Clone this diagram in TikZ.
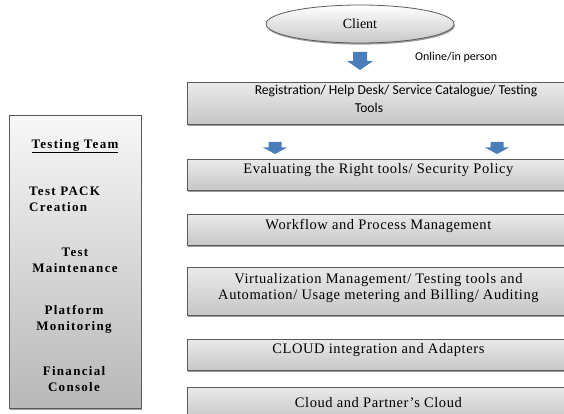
\documentclass[tikz,border=0pt]{standalone}
\usepackage{fontspec}
\setmainfont{Liberation Serif}
\newfontfamily\calfont{Carlito}
\newfontfamily\boxfont[LetterSpace=4]{Liberation Serif}
\newfontfamily\teamfont[LetterSpace=10]{Liberation Serif}
\usetikzlibrary{shadows,shapes.geometric}
\definecolor{arrowblue}{HTML}{4A7EBB}
\definecolor{edgegray}{HTML}{5A5A5A}
\definecolor{boxtop}{HTML}{EAEAEA}
\definecolor{boxbot}{HTML}{C6C6C6}
\begin{document}
\begin{tikzpicture}[x=1pt,y=-1pt,
  shadowed/.style={drop shadow={shadow xshift=0.8pt,shadow yshift=-1.6pt,opacity=0.55,fill=black!70}},
  box/.style={shadowed,draw=edgegray,line width=0.8pt,top color=boxtop,bottom color=boxbot,
    anchor=north west,inner sep=0pt,minimum width=382pt,minimum height=31pt},
  boxtext/.style={font=\boxfont\fontsize{14.5}{16.5}\selectfont,align=center,inner sep=0pt},
  teamtext/.style={font=\teamfont\bfseries\fontsize{13}{16}\selectfont,align=center,inner sep=0pt},
  pics/blockarrow/.style args={#1/#2/#3/#4}{code={%
    \fill[arrowblue] (-#2/2,0) -- (#2/2,0) -- (#2/2,#1-#4) -- (#3/2,#1-#4) -- (0,#1)
      -- (-#3/2,#1-#4) -- (-#2/2,#1-#4) -- cycle;}}
]
\useasboundingbox (0,0) rectangle (564,414);
\clip (0,0) rectangle (564,414);

% client
\node[ellipse,shadowed,draw=edgegray,line width=0.8pt,top color=white,bottom color=black!22,
  minimum width=188pt,minimum height=38pt,inner sep=0pt,
  font=\fontsize{14}{16}\selectfont] (client) at (360,24) {Client};

\coordinate (arrA) at (360,52);
\pic at (arrA) {blockarrow=18/14/26/9};
\node[font=\calfont\fontsize{12}{14}\selectfont,anchor=west,inner sep=0pt] (online) at (415,57) {Online/in person};

% registration
\node[box,minimum height=42pt] (reg) at (187,82) {};
\node[font=\calfont\fontsize{13.6}{18}\selectfont,align=center,inner sep=0pt] (regt) at (382.5,99)
  {\hspace*{27pt}Registration/ Help Desk/ Service Catalogue/ Testing\\ Tools\hspace*{27pt}};

\coordinate (arrB) at (275,142);
\coordinate (arrC) at (497,142);
\pic at (arrB) {blockarrow=12/13/24/6.5};
\pic at (arrC) {blockarrow=12/13/24/6.5};

\node[box] (eval) at (187,159) {};
\node[boxtext] (evalt) at ([yshift=-11.5pt]eval.north) {Evaluating the Right tools/ Security Policy};

\node[box] (work) at (187,214) {};
\node[boxtext] (workt) at ([yshift=-11.5pt]work.north) {Workflow and Process Management};

\node[box,minimum height=48pt] (virt) at (187,267) {};
\node[boxtext] (virtt) at ([yshift=-21pt]virt.north)
  {Virtualization Management/ Testing tools and\\Automation/ Usage metering and Billing/ Auditing};

\node[box] (cloud) at (187,339) {};
\node[boxtext] (cloudt) at ([yshift=-11.5pt]cloud.north) {CLOUD integration and Adapters};

\node[box] (partner) at (187,387) {};
\node[boxtext] (partnert) at ([yshift=-16pt]partner.north) {Cloud and Partner’s Cloud};

% testing team panel
\node[shadowed,draw=edgegray,line width=0.8pt,top color=black!3,bottom color=black!28,
  anchor=north west,inner sep=0pt,minimum width=132pt,minimum height=293pt] (team) at (9,115) {};
\node[teamtext] (tt1) at (75,146) {\underline{Testing Team}};
\node[teamtext,align=left,anchor=west] (tt2) at (29,199) {Test PACK\\Creation};
\node[teamtext] (tt3) at (75,260) {Test\\Maintenance};
\node[teamtext] (tt4) at (74,319) {Platform\\Monitoring};
\node[teamtext] (tt5) at (74,379) {Financial\\Console};
\end{tikzpicture}
\end{document}
